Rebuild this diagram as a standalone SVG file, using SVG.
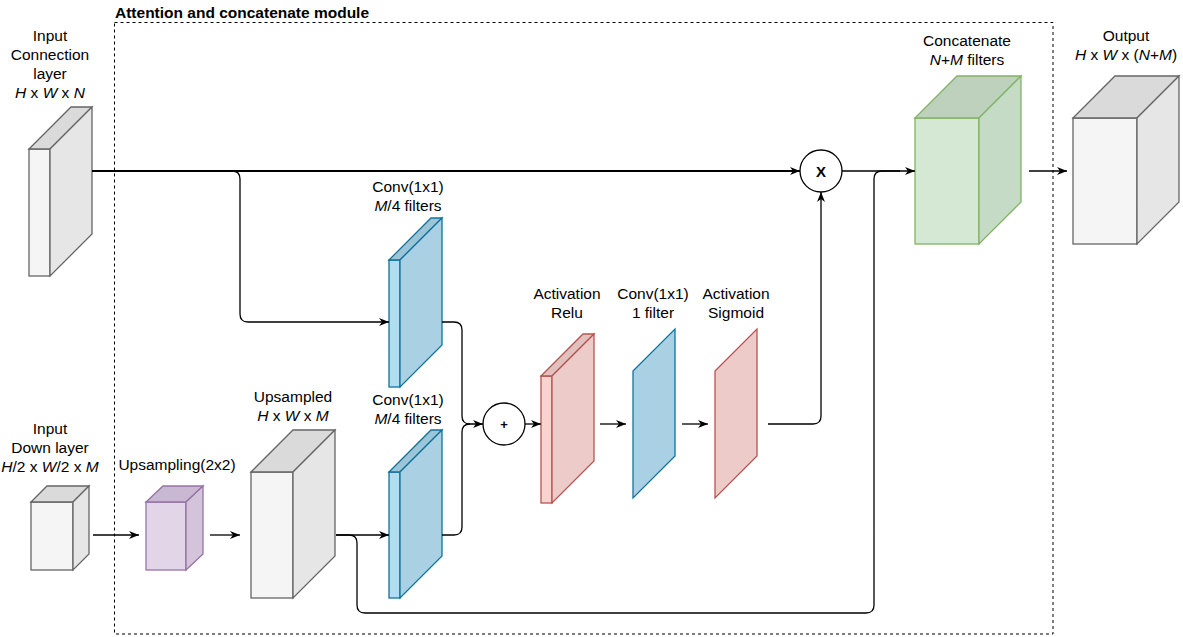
<svg xmlns="http://www.w3.org/2000/svg" width="1183" height="637" viewBox="0 0 1183 637">
<style>
text{font-family:"Liberation Sans",Arial,sans-serif;font-size:15.5px;fill:#000;text-anchor:middle}
.i{font-style:italic}
.t{font-weight:bold;text-anchor:start}
.c{stroke:#000;stroke-width:1.3;fill:none}
.gray{stroke:#666;stroke-width:1.3}
.blue{stroke:#10739e;stroke-width:1.3}
.red{stroke:#b85450;stroke-width:1.3}
.pur{stroke:#9673a6;stroke-width:1.3}
.grn{stroke:#82b366;stroke-width:1.3}
</style>
<defs>
<marker id="a" markerUnits="userSpaceOnUse" markerWidth="10" markerHeight="10" refX="10" refY="5" orient="auto">
<path d="M0,1 L10,5 L0,9 L3,5 Z" fill="#000"/>
</marker>
</defs>
<rect width="1183" height="637" fill="#fff"/>
<g id="module">
<rect x="114.5" y="22.5" width="938.5" height="611.5" fill="none" stroke="#000" stroke-dasharray="3,3"/>
<text class="t" x="115" y="18">Attention and concatenate module</text>
</g>
<g id="input-connection">
<rect x="29" y="149" width="21" height="127" fill="#f5f5f5" class="gray"/>
<polygon points="29,149 71,107 92,107 50,149" fill="#dadada" class="gray"/>
<polygon points="50,149 92,107 92,234 50,276" fill="#e6e6e6" class="gray"/>
<text x="50" y="41">Input</text>
<text x="50" y="60">Connection</text>
<text x="50" y="79">layer</text>
<text x="50" y="98"><tspan class="i">H</tspan> x <tspan class="i">W</tspan> x <tspan class="i">N</tspan></text>
</g>
<g id="input-down">
<rect x="31" y="502" width="42" height="68" fill="#f5f5f5" class="gray"/>
<polygon points="31,502 47,486 89,486 73,502" fill="#dadada" class="gray"/>
<polygon points="73,502 89,486 89,554 73,570" fill="#e6e6e6" class="gray"/>
<text x="50" y="434">Input</text>
<text x="50" y="453">Down layer</text>
<text x="50" y="472"><tspan class="i">H</tspan>/2 x <tspan class="i">W</tspan>/2 x <tspan class="i">M</tspan></text>
</g>
<g id="upsampling">
<rect x="146" y="502" width="40" height="68" fill="#e1d5e7" class="pur"/>
<polygon points="146,502 163,486 203,486 186,502" fill="#c9b8d1" class="pur"/>
<polygon points="186,502 203,486 203,554 186,570" fill="#d3c4da" class="pur"/>
<text x="177" y="470">Upsampling(2x2)</text>
</g>
<g id="upsampled">
<rect x="251" y="472" width="42" height="126" fill="#f5f5f5" class="gray"/>
<polygon points="251,472 293,430 335,430 293,472" fill="#dadada" class="gray"/>
<polygon points="293,472 335,430 335,556 293,598" fill="#e6e6e6" class="gray"/>
<text x="293" y="402">Upsampled</text>
<text x="293" y="421"><tspan class="i">H</tspan> x <tspan class="i">W</tspan> x <tspan class="i">M</tspan></text>
</g>
<g id="conv1">
<rect x="389" y="260" width="11" height="127" fill="#b1ddf0" class="blue"/>
<polygon points="389,260 431,218 442,218 400,260" fill="#9cc6d8" class="blue"/>
<polygon points="400,260 442,218 442,345 400,387" fill="#a9d1e3" class="blue"/>
<text x="408" y="192">Conv(1x1)</text>
<text x="408" y="211"><tspan class="i">M</tspan>/4 filters</text>
</g>
<g id="conv2">
<rect x="389" y="472" width="11" height="126" fill="#b1ddf0" class="blue"/>
<polygon points="389,472 431,430 442,430 400,472" fill="#9cc6d8" class="blue"/>
<polygon points="400,472 442,430 442,556 400,598" fill="#a9d1e3" class="blue"/>
<text x="408" y="405">Conv(1x1)</text>
<text x="408" y="424"><tspan class="i">M</tspan>/4 filters</text>
</g>
<g id="add">
<circle cx="504" cy="424" r="21" fill="#fff" stroke="#000" stroke-width="1.3"/>
<text x="504" y="429" style="font-weight:bold;font-size:13px">+</text>
</g>
<g id="relu">
<rect x="541" y="376" width="11" height="127" fill="#f8d3d0" class="red"/>
<polygon points="541,376 583,334 594,334 552,376" fill="#e2c0bd" class="red"/>
<polygon points="552,376 594,334 594,461 552,503" fill="#eccbc9" class="red"/>
<text x="567" y="299">Activation</text>
<text x="567" y="318">Relu</text>
</g>
<g id="conv3">
<polygon points="633,371 675,329 675,456 633,498" fill="#a9d1e3" class="blue"/>
<text x="653" y="299">Conv(1x1)</text>
<text x="653" y="318">1 filter</text>
</g>
<g id="sigmoid">
<polygon points="715,371 757,329 757,456 715,498" fill="#eccbc9" class="red"/>
<text x="736" y="299">Activation</text>
<text x="736" y="318">Sigmoid</text>
</g>
<g id="multiply">
<circle cx="821" cy="171" r="21" fill="#fff" stroke="#000" stroke-width="1.3"/>
<text x="821" y="177" style="font-weight:bold;font-size:15px">X</text>
</g>
<g id="concatenate">
<rect x="915" y="118" width="64" height="126" fill="#d5e8d4" class="grn"/>
<polygon points="915,118 957,76 1021,76 979,118" fill="#bdd1bc" class="grn"/>
<polygon points="979,118 1021,76 1021,202 979,244" fill="#c6dbc5" class="grn"/>
<text x="967" y="46">Concatenate</text>
<text x="967" y="65"><tspan class="i">N</tspan>+<tspan class="i">M</tspan> filters</text>
</g>
<g id="output">
<rect x="1073" y="118" width="64" height="126" fill="#f5f5f5" class="gray"/>
<polygon points="1073,118 1115,76 1179,76 1137,118" fill="#dadada" class="gray"/>
<polygon points="1137,118 1179,76 1179,202 1137,244" fill="#e6e6e6" class="gray"/>
<text x="1126" y="41">Output</text>
<text x="1126" y="60"><tspan class="i">H</tspan> x <tspan class="i">W</tspan> x (<tspan class="i">N</tspan>+<tspan class="i">M</tspan>)</text>
</g>
<g id="connectors">
<path class="c" d="M92,171 H800" stroke-width="2" style="stroke-width:2" marker-end="url(#a)"/>
<path class="c" d="M232,171 Q240,171 240,179 V314 Q240,322 248,322 H389" marker-end="url(#a)"/>
<path class="c" d="M442,322 H454 Q462,322 462,330 V416 Q462,424 470,424 H483" marker-end="url(#a)"/>
<path class="c" d="M442,535 H454 Q462,535 462,527 V432 Q462,424 470,424"/>
<path class="c" d="M525,424 H541" marker-end="url(#a)"/>
<path class="c" d="M600,424 H626" marker-end="url(#a)"/>
<path class="c" d="M682,424 H708" marker-end="url(#a)"/>
<path class="c" d="M768,424 H813 Q821,424 821,416 V192" marker-end="url(#a)"/>
<path class="c" d="M842,171 H915" marker-end="url(#a)"/>
<path class="c" d="M93,535 H139" marker-end="url(#a)"/>
<path class="c" d="M210,535 H240" marker-end="url(#a)"/>
<path class="c" d="M336,535 H389" marker-end="url(#a)"/>
<path class="c" d="M336,535 H349 Q357,535 357,543 V605 Q357,613 365,613 H866 Q874,613 874,605 V179 Q874,171 882,171 H900"/>
<path class="c" d="M1029,171 H1067" marker-end="url(#a)"/>
</g>
</svg>
